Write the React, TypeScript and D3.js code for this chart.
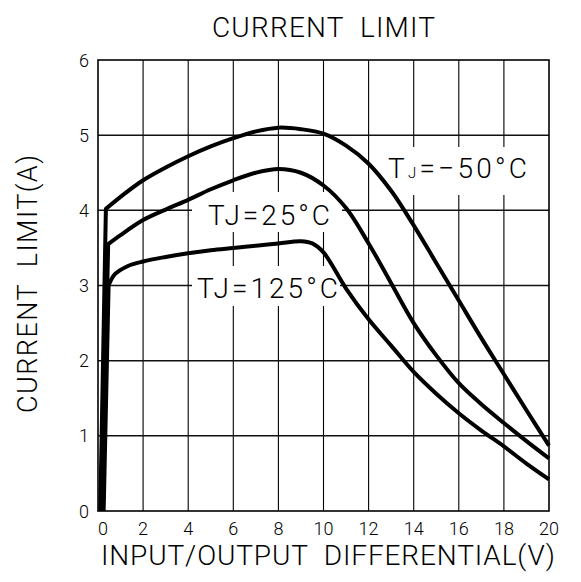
import React from "react";
import * as d3 from "d3";

const xTicks = [0, 2, 4, 6, 8, 10, 12, 14, 16, 18, 20];
const yTicks = [0, 1, 2, 3, 4, 5, 6];

const curveNeg50: [number, number][] = [
  [0.1, 0], [0.35, 4.02], [1, 4.18], [2, 4.4], [3, 4.57], [4, 4.72], [5, 4.85], [6, 4.96],
  [7, 5.05], [8, 5.1], [9, 5.08], [10, 5.02], [11, 4.86], [12, 4.62], [13, 4.26], [14, 3.8],
  [15, 3.3], [16, 2.8], [17, 2.3], [18, 1.82], [19, 1.34], [20, 0.87],
];
const curve25: [number, number][] = [
  [0.2, 0], [0.45, 3.55], [1, 3.67], [2, 3.87], [3, 4.01], [4, 4.14], [5, 4.28], [6, 4.4],
  [7, 4.5], [8, 4.55], [9, 4.5], [10, 4.33], [11, 4.03], [12, 3.56], [13, 3.03], [14, 2.5],
  [15, 2.07], [16, 1.7], [17, 1.42], [18, 1.17], [19, 0.93], [20, 0.7],
];
const curve125: [number, number][] = [
  [0.25, 0], [0.47, 3.0], [0.75, 3.15], [1.33, 3.26], [2, 3.32], [3, 3.38], [4, 3.43],
  [5, 3.47], [6, 3.5], [7, 3.53], [8, 3.56], [9, 3.59], [9.5, 3.56], [10, 3.44], [11, 2.96],
  [12, 2.55], [13, 2.2], [14, 1.85], [15, 1.56], [16, 1.3], [17, 1.07], [18, 0.86],
  [19, 0.63], [20, 0.42],
];

const title = "CURRENT  LIMIT";
const xLabel = "INPUT/OUTPUT  DIFFERENTIAL(V)";
const yLabel = "CURRENT  LIMIT(A)";

const W = 581;
const H = 582;
const FONT = "Roboto, 'Liberation Sans', Arial, sans-serif";

export default function App() {
  const x = d3.scaleLinear().domain([0, 20]).range([98, 549]);
  const y = d3.scaleLinear().domain([0, 6]).range([511, 60]);

  const makePath = (pts: [number, number][]) => {
    const first = d3.line<[number, number]>().x((d) => x(d[0])).y((d) => y(d[1]))(pts.slice(0, 2)) || "";
    const rest =
      d3
        .line<[number, number]>()
        .x((d) => x(d[0]))
        .y((d) => y(d[1]))
        .curve(d3.curveCatmullRom.alpha(0.5))(pts.slice(1)) || "";
    return first + rest.replace(/^M[^A-Za-z]*/, "");
  };

  const curves = [curveNeg50, curve25, curve125];

  return (
    <svg
      width={W}
      height={H}
      style={{ position: "absolute", left: 0, top: 0, background: "#fff" }}
      fontFamily={FONT}
      fontWeight={300}
    >
      <rect x={0} y={0} width={W} height={H} fill="#fff" />
      {xTicks.slice(1, -1).map((t) => (
        <line key={"gx" + t} x1={x(t)} x2={x(t)} y1={y(6)} y2={y(0)} stroke="#000" strokeWidth={1.1} />
      ))}
      {yTicks.slice(1, -1).map((t) => (
        <line key={"gy" + t} x1={x(0)} x2={x(20)} y1={y(t)} y2={y(t)} stroke="#111" strokeWidth={1.5} />
      ))}
      <rect x={192} y={192} width={150} height={40} fill="#fff" />
      <rect x={192} y={266} width={148} height={40} fill="#fff" />
      <rect x={380} y={147} width={162} height={48} fill="#fff" />
      <rect x={x(0)} y={y(6)} width={x(20) - x(0)} height={y(0) - y(6)} fill="none" stroke="#000" strokeWidth={1.6} />
      {curves.map((c, i) => (
        <path key={"c" + i} d={makePath(c)} fill="none" stroke="#000" strokeWidth={4} strokeLinejoin="round" />
      ))}
      {xTicks.map((t) => (
        <text key={"tx" + t} x={x(t) + (t === 0 ? 5 : 0)} y={535} fontSize={18} textAnchor="middle" fill="#000">
          {t}
        </text>
      ))}
      {yTicks.map((t) => (
        <text key={"ty" + t} x={89} y={y(t) + 6.5} fontSize={18} textAnchor="end" fill="#000">
          {t}
        </text>
      ))}
      <text x={212} y={37} fontSize={28} textLength={223} lengthAdjust="spacing" style={{ whiteSpace: "pre" }} fill="#000">
        {title}
      </text>
      <text x={101} y={565} fontSize={28} textLength={454} lengthAdjust="spacing" style={{ whiteSpace: "pre" }} fill="#000">
        {xLabel}
      </text>
      <text
        transform="translate(37,413) rotate(-90)"
        x={0}
        y={0}
        fontSize={27}
        textLength={258}
        lengthAdjust="spacing"
        style={{ whiteSpace: "pre" }}
        fill="#000"
      >
        {yLabel}
      </text>
      <text x={208} y={225} fontSize={28} textLength={122} lengthAdjust="spacing" fill="#000">
        TJ=25°C
      </text>
      <text x={197} y={298} fontSize={28} textLength={141} lengthAdjust="spacing" fill="#000">
        TJ=125°C
      </text>
      <text x={388} y={178} fontSize={28} textLength={139} lengthAdjust="spacing" fill="#000">
        T<tspan fontSize={15}>J</tspan>=−50°C
      </text>
    </svg>
  );
}
